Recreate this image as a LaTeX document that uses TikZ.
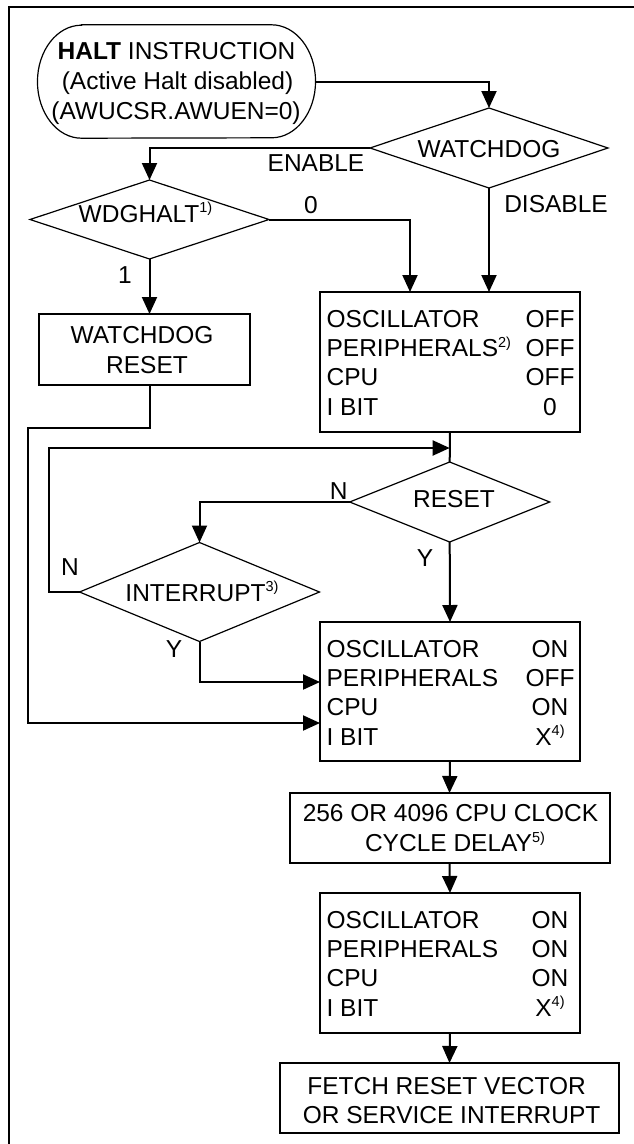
\documentclass[tikz,border=0pt]{standalone}
\usepackage{fontspec}
\setmainfont{Liberation Sans}
\usetikzlibrary{shapes.geometric,arrows.meta,calc}
\newcommand\fnsup[1]{\raisebox{9.5pt}{\fontsize{14.5}{14.5}\selectfont #1}}
\begin{document}
\begin{tikzpicture}[x=1pt,y=-1pt,
  txt/.style={font=\fontsize{24.5}{29.4}\selectfont, inner sep=0pt, outer sep=0pt, anchor=base},
  boxst/.style={draw, line width=2pt, inner sep=0pt, outer sep=0pt},
  dia/.style={draw, shape=diamond, line width=1.2pt, inner sep=0pt, outer sep=0pt},
  ln/.style={line width=2pt},
  arr/.style={line width=2pt, -{Triangle[length=17pt,width=15pt]}}
]
\useasboundingbox (0,0) rectangle (634,1144);
\fill[white] (0,0) rectangle (634,1144);
\clip (0,0) rectangle (634,1144);

% frame
\draw[line width=2pt] (9,1150) -- (9,7) -- (640,7);

% start node
\node[inner sep=0pt, minimum width=277.7pt, minimum height=113pt] (st) at (176.5,81.5) {};
\draw[line width=1.2pt] ([xshift=44pt]st.north west) -- ([xshift=-44pt]st.north east)
  arc[start angle=90, end angle=-90, x radius=44pt, y radius=56.5pt]
  -- ([xshift=44pt]st.south west)
  arc[start angle=270, end angle=90, x radius=44pt, y radius=56.5pt] -- cycle;
\node[txt] (st1) at (176.5,59.75) {\textbf{HALT} INSTRUCTION};
\node[txt] (st2) at (177.5,89.75) {(Active Halt disabled)};
\node[txt] (st3) at (176,119.75) {(AWUCSR.AWUEN=0)};

% diamonds
\node[dia, minimum width=238pt, minimum height=80pt] (wd) at (489,148) {};
\node[txt] (wdt) at (489,157) {WATCHDOG};
\node[dia, minimum width=239pt, minimum height=79pt] (wdg) at (149.5,219.5) {};
\node[txt] (wdgt) at (145.5,222.25) {WDGHALT\fnsup{1)}};
\node[dia, minimum width=200pt, minimum height=80pt] (rs) at (449.7,502) {};
\node[txt] (rst) at (454,507.75) {RESET};
\node[dia, minimum width=240pt, minimum height=99pt] (intr) at (199.5,592) {};
\node[txt] (intt) at (202,601.25) {INTERRUPT\fnsup{3)}};

% boxes
\node[boxst, minimum width=211pt, minimum height=71pt] (wdr) at (144.3,349.5) {};
\node[txt] (wdr1) at (142,343.75) {WATCHDOG};
\node[txt] (wdr2) at (147,373.75) {RESET};

\node[boxst, minimum width=260pt, minimum height=140pt] (b1) at (450,362) {};
\node[boxst, minimum width=260pt, minimum height=139pt] (b2) at (450,691.5) {};
\node[boxst, minimum width=320pt, minimum height=70pt] (dl) at (449.5,828) {};
\node[boxst, minimum width=260pt, minimum height=140pt] (b3) at (450,963) {};
\node[boxst, minimum width=339.5pt, minimum height=70pt] (fin) at (449.5,1098) {};

% box1 rows
\node[txt, anchor=base west] (b1a) at (326.6,327.25) {OSCILLATOR};
\node[txt] (b1av) at (550,327.25) {OFF};
\node[txt, anchor=base west] (b1b) at (326.6,356.55) {PERIPHERALS\fnsup{2)}};
\node[txt] (b1bv) at (550,356.55) {OFF};
\node[txt, anchor=base west] (b1c) at (326.6,385.85) {CPU};
\node[txt] (b1cv) at (550,385.85) {OFF};
\node[txt, anchor=base west] (b1d) at (326.6,415.15) {I BIT};
\node[txt] (b1dv) at (550,415.15) {0};

% box2 rows
\node[txt, anchor=base west] (b2a) at (326.6,657.25) {OSCILLATOR};
\node[txt] (b2av) at (550,657.25) {ON};
\node[txt, anchor=base west] (b2b) at (326.6,686.55) {PERIPHERALS};
\node[txt] (b2bv) at (550,686.55) {OFF};
\node[txt, anchor=base west] (b2c) at (326.6,715.85) {CPU};
\node[txt] (b2cv) at (550,715.85) {ON};
\node[txt, anchor=base west] (b2d) at (326.6,745.15) {I BIT};
\node[txt] (b2dv) at (550,745.15) {X\fnsup{4)}};

% delay box
\node[txt] (dl1) at (450.5,821.75) {256 OR 4096 CPU CLOCK};
\node[txt] (dl2) at (455,851.75) {CYCLE DELAY\fnsup{5)}};

% box3 rows
\node[txt, anchor=base west] (b3a) at (326.6,928.25) {OSCILLATOR};
\node[txt] (b3av) at (550,928.25) {ON};
\node[txt, anchor=base west] (b3b) at (326.6,957.55) {PERIPHERALS};
\node[txt] (b3bv) at (550,957.55) {ON};
\node[txt, anchor=base west] (b3c) at (326.6,986.85) {CPU};
\node[txt] (b3cv) at (550,986.85) {ON};
\node[txt, anchor=base west] (b3d) at (326.6,1016.15) {I BIT};
\node[txt] (b3dv) at (550,1016.15) {X\fnsup{4)}};

% final box
\node[txt] (fin1) at (446.6,1094.75) {FETCH RESET VECTOR};
\node[txt] (fin2) at (451.6,1123.25) {OR SERVICE INTERRUPT};

% labels
\node[txt] (lenable) at (316,171.75) {ENABLE};
\node[txt] (ldisable) at (556,212.75) {DISABLE};
\node[txt] (lzero) at (311,213.75) {0};
\node[txt] (lone) at (125,283.75) {1};
\node[txt] (lnr) at (338.7,499.75) {N};
\node[txt] (lni) at (70,575.25) {N};
\node[txt] (lyr) at (425,566.75) {Y};
\node[txt] (lyi) at (174,657.75) {Y};

% connectors
\coordinate (j1) at (449.7,448);
\draw[arr] (st.east) -| (wd.north);
\draw[arr] (wd.west) -| (wdg.north);
\draw[arr] (wd.south) -- (wd.south |- b1.north);
\draw[arr] (wdg.east) -| ([xshift=-40pt]b1.north);
\draw[arr] (wdg.south) -- (wdg.south |- wdr.north);
\draw[arr] (wdg.south |- wdr.south) |- (28.3,428) |- ([yshift=-31.5pt]b2.west);
\draw[ln] (b1.south) -- (rs.north);
\draw[arr] (intr.west) -- ++(-30.3,0) |- (j1);
\draw[arr] (rs.west) -| (intr.north);
\draw[arr] (rs.south) -- (b2.north);
\draw[arr] (intr.south) |- ([yshift=9.5pt]b2.west);
\draw[arr] (b2.south) -- (dl.north);
\draw[arr] (dl.south) -- (b3.north);
\draw[arr] (b3.south) -- (fin.north);
\end{tikzpicture}
\end{document}
